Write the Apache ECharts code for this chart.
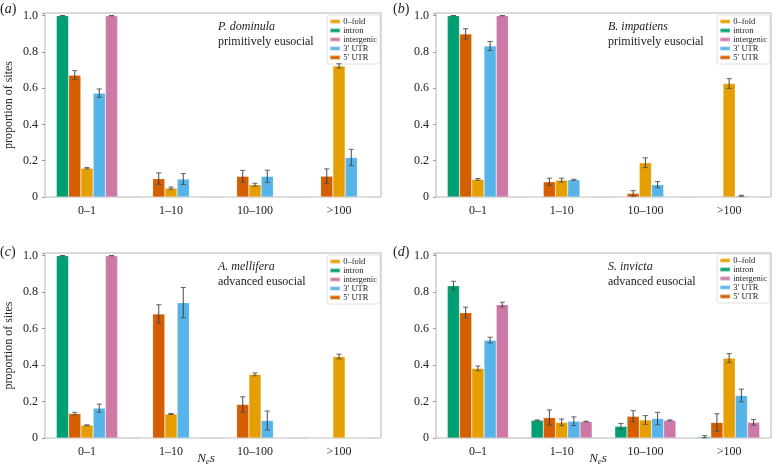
<!DOCTYPE html>
<html>
<head>
<meta charset="utf-8">
<script src="https://cdn.jsdelivr.net/npm/echarts@6/dist/echarts.min.js"></script>
<style>
html,body{margin:0;padding:0;background:#fff;}
#chart{width:776px;height:472px;}
</style>
</head>
<body>
<div id="chart"></div>
<script>
// ---------- data ----------
const categories = ['0–1', '1–10', '10–100', '>100'];
const barSeries = ['intron', '5′ UTR', '0–fold', '3′ UTR', 'intergenic'];
const legendOrder = ['0–fold', 'intron', 'intergenic', '3′ UTR', '5′ UTR'];
const yTicks = [0, 0.2, 0.4, 0.6, 0.8, 1.0];

// rows follow barSeries order, columns follow categories
const pdomValues = [
  [1.0, 0, 0, 0],
  [0.672, 0.101, 0.114, 0.115],
  [0.159, 0.049, 0.068, 0.723],
  [0.573, 0.099, 0.114, 0.218],
  [1.0, 0, 0, 0]
];
const pdomErrors = [
  [0.001, 0, 0, 0],
  [0.025, 0.032, 0.033, 0.040],
  [0.004, 0.006, 0.008, 0.012],
  [0.023, 0.030, 0.034, 0.045],
  [0.001, 0, 0, 0]
];

const bimpValues = [
  [1.0, 0, 0, 0],
  [0.899, 0.084, 0.020, 0],
  [0.097, 0.093, 0.189, 0.626],
  [0.833, 0.095, 0.068, 0.007],
  [1.0, 0.002, 0, 0]
];
const bimpErrors = [
  [0.001, 0, 0, 0],
  [0.029, 0.020, 0.015, 0],
  [0.005, 0.011, 0.027, 0.027],
  [0.025, 0.003, 0.017, 0.003],
  [0.001, 0, 0, 0]
];

const amelValues = [
  [1.0, 0, 0, 0],
  [0.134, 0.680, 0.184, 0],
  [0.070, 0.132, 0.349, 0.447],
  [0.164, 0.743, 0.096, 0],
  [1.0, 0, 0, 0]
];
const amelErrors = [
  [0.001, 0, 0, 0],
  [0.007, 0.051, 0.042, 0],
  [0.002, 0.003, 0.008, 0.013],
  [0.022, 0.083, 0.052, 0],
  [0.001, 0, 0, 0]
];

const sinvValues = [
  [0.836, 0.097, 0.064, 0.007],
  [0.688, 0.112, 0.119, 0.085],
  [0.382, 0.086, 0.099, 0.438],
  [0.537, 0.092, 0.107, 0.233],
  [0.732, 0.090, 0.097, 0.086]
];
const sinvErrors = [
  [0.024, 0.002, 0.016, 0.006],
  [0.030, 0.042, 0.031, 0.048],
  [0.013, 0.018, 0.024, 0.025],
  [0.016, 0.024, 0.034, 0.035],
  [0.013, 0.002, 0.002, 0.016]
];

// ---------- style / layout ----------
const barColors = ['#009E73', '#D55E00', '#E69F00', '#56B4E9', '#CC79A7'];
const FONT = 'Liberation Serif, DejaVu Serif, serif';
const GAP = 0.27;

const panels = [
  { values: pdomValues, errors: pdomErrors, species: 'P. dominula', social: 'primitively eusocial',
    label: 'a', grid: { left: 45, top: 13, width: 336, height: 184 }, yName: true, xName: false,
    legend: { right: 396, top: 15 }, text: [218, 21], lab: [0, 2] },
  { values: bimpValues, errors: bimpErrors, species: 'B. impatiens', social: 'primitively eusocial',
    label: 'b', grid: { left: 436, top: 13, width: 335, height: 184 }, yName: false, xName: false,
    legend: { right: 6, top: 15 }, text: [608, 21], lab: [393, 2] },
  { values: amelValues, errors: amelErrors, species: 'A. mellifera', social: 'advanced eusocial',
    label: 'c', grid: { left: 45, top: 253, width: 336, height: 185 }, yName: true, xName: [206, 459],
    legend: { right: 396, top: 255 }, text: [218, 261], lab: [0, 245] },
  { values: sinvValues, errors: sinvErrors, species: 'S. invicta', social: 'advanced eusocial',
    label: 'd', grid: { left: 436, top: 253, width: 335, height: 185 }, yName: false, xName: [598, 459],
    legend: { right: 6, top: 254 }, text: [608, 261], lab: [393, 245] }
];

const grids = [], xAxes = [], yAxes = [], series = [], legends = [], graphics = [];

function errRender(params, api) {
  const cat = api.value(0), val = api.value(1), err = api.value(2), k = api.value(3);
  if (!(err > 0)) return null;
  const band = api.size([1, 0])[0];
  const bw = band * (1 - GAP) / barSeries.length;
  const c = api.coord([cat, val]);
  const x = c[0] + (k - (barSeries.length - 1) / 2) * bw;
  const yT = api.coord([cat, val + err])[1];
  const yB = api.coord([cat, Math.max(0, val - err)])[1];
  const cap = 2.6;
  const st = { stroke: '#333', lineWidth: 0.9 };
  return { type: 'group', children: [
    { type: 'line', shape: { x1: x, y1: yT, x2: x, y2: yB }, style: st },
    { type: 'line', shape: { x1: x - cap, y1: yT, x2: x + cap, y2: yT }, style: { stroke: '#555', lineWidth: 0.9 } },
    { type: 'line', shape: { x1: x - cap, y1: yB, x2: x + cap, y2: yB }, style: { stroke: '#555', lineWidth: 0.9 } }
  ]};
}

panels.forEach((p, gi) => {
  grids.push(Object.assign({ show: true, borderColor: '#b5b5b5', borderWidth: 1, backgroundColor: 'transparent' }, p.grid));
  xAxes.push({
    type: 'category', gridIndex: gi, data: categories,
    axisLine: { show: false }, axisTick: { show: false },
    axisLabel: { fontFamily: FONT, fontSize: 12, color: '#222', margin: 8 },
    splitLine: { show: false }
  });
  yAxes.push({
    type: 'value', gridIndex: gi, min: 0, max: 1.015, interval: 0.2,
    axisLine: { show: false },
    axisTick: { show: true, length: 3, lineStyle: { color: '#999' } },
    splitLine: { show: false },
    axisLabel: {
      fontFamily: FONT, fontSize: 12, color: '#222', margin: 7,
      formatter: v => {
        const t = yTicks.find(tk => Math.abs(tk - v) < 1e-6);
        if (t === undefined) return '';
        return t === 0 ? '0' : t.toFixed(1);
      }
    },
    name: p.yName ? 'proportion of sites' : '',
    nameLocation: 'middle', nameGap: 30,
    nameTextStyle: { fontFamily: FONT, fontSize: 12, color: '#222' }
  });
  barSeries.forEach((name, k) => {
    series.push({
      type: 'bar', name: name, xAxisIndex: gi, yAxisIndex: gi,
      data: p.values[k], barGap: '0%', barCategoryGap: (GAP * 100) + '%',
      itemStyle: { color: barColors[k], borderColor: 'rgba(255,255,255,0.35)', borderWidth: 0.6 },
      emphasis: { disabled: true }, silent: true
    });
  });
  const errData = [];
  barSeries.forEach((name, k) => {
    categories.forEach((c, ci) => {
      errData.push([ci, p.values[k][ci], p.errors[k][ci], k]);
    });
  });
  series.push({
    type: 'custom', name: 'err' + gi, xAxisIndex: gi, yAxisIndex: gi,
    renderItem: errRender, data: errData, z: 10, silent: true,
    encode: { x: 0, y: 1 }
  });
  legends.push({
    data: legendOrder, orient: 'vertical', right: p.legend.right, top: p.legend.top,
    icon: 'rect', itemWidth: 10, itemHeight: 4, itemGap: 0,
    padding: [2, 3, 2, 2], backgroundColor: 'rgba(255,255,255,0.85)',
    borderColor: '#d8d8d8', borderWidth: 0.8, borderRadius: 2,
    selectedMode: false,
    textStyle: { fontFamily: FONT, fontSize: 8.5, color: '#222', lineHeight: 8.8, padding: [0, 0, 0, -2] }
  });
  graphics.push({
    type: 'text', left: p.text[0], top: p.text[1],
    style: {
      text: '{i|' + p.species + '}\n{n|' + p.social + '}',
      rich: {
        i: { fontFamily: FONT, fontSize: 12, fontStyle: 'italic', fill: '#222', lineHeight: 15 },
        n: { fontFamily: FONT, fontSize: 12, fill: '#222', lineHeight: 15 }
      }
    }
  });
  graphics.push({
    type: 'text', left: p.lab[0], top: p.lab[1],
    style: {
      text: '{n|(}{i|' + p.label + '}{n|)}',
      rich: {
        i: { fontFamily: FONT, fontSize: 14, fontStyle: 'italic', fill: '#222' },
        n: { fontFamily: FONT, fontSize: 14, fill: '#222' }
      }
    }
  });
  if (p.xName) {
    graphics.push({
      type: 'text', x: p.xName[0], y: p.xName[1],
      style: {
        text: '{i|N}{s|e}{i|s}', align: 'center', verticalAlign: 'middle',
        rich: {
          i: { fontFamily: FONT, fontSize: 13, fontStyle: 'italic', fill: '#222' },
          s: { fontFamily: FONT, fontSize: 9, fontStyle: 'italic', fill: '#222', verticalAlign: 'bottom', padding: [6, 0, 0, 0] }
        }
      }
    });
  }
});

const chart = echarts.init(document.getElementById('chart'), null, { renderer: 'canvas' });
chart.setOption({
  animation: false,
  backgroundColor: '#fff',
  grid: grids, xAxis: xAxes, yAxis: yAxes, series: series,
  legend: legends, graphic: graphics
});
</script>
</body>
</html>
